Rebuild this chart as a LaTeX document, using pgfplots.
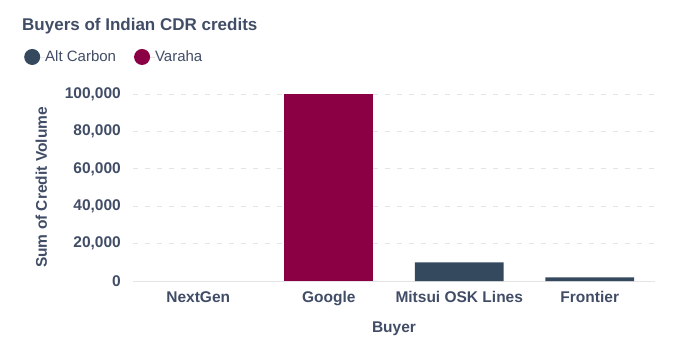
\documentclass[border=0pt]{standalone}
\usepackage{fontspec}
\setmainfont{Liberation Sans}
\usepackage{pgfplots}
\pgfplotsset{compat=1.18}
\definecolor{txt}{HTML}{414D66}
\definecolor{alt}{HTML}{34495E}
\definecolor{var}{HTML}{8B0045}
\definecolor{grd}{HTML}{E4E4E4}
\begin{document}
\begin{tikzpicture}
\path[use as bounding box] (-133pt,-73pt) rectangle (552pt,281pt);
\begin{axis}[
  at={(0,0)}, anchor=south west,
  scale only axis, width=522pt, height=187pt,
  xmin=-0.5, xmax=3.5, ymin=0, ymax=100000,
  ybar stacked, bar width=0.68,
  axis line style={draw=none}, major tick length=0pt,
  xtick={0,1,2,3},
  xticklabels={NextGen,Google,Mitsui OSK Lines,Frontier},
  ytick={20000,40000,60000,80000,100000},
  extra y ticks={0},
  extra y tick style={major grid style={solid, draw=grd, line width=1pt}},
  ymajorgrids,
  major grid style={draw=grd, dash pattern=on 5pt off 7pt, line width=0.8pt},
  scaled y ticks=false,
  /pgf/number format/fixed, /pgf/number format/1000 sep={,},
  /pgf/number format/assume math mode=true,
  ticklabel style={font=\fontsize{15.5}{18}\selectfont\bfseries, text=txt, inner sep=0pt},
  yticklabel style={anchor=east, xshift=-12pt},
  xticklabel style={anchor=base, yshift=-21pt},
  xlabel={Buyer}, ylabel={Sum of Credit Volume},
  label style={font=\fontsize{15.5}{18}\selectfont\bfseries, text=txt},
  xlabel style={at={(axis description cs:0.5,-0.2727)}, anchor=base},
  ylabel style={at={(axis description cs:-0.1648,0.5)}, anchor=base},
  legend columns=2,
  legend style={at={(axis description cs:-0.2088,1.198)}, anchor=west, draw=none, fill=none,
    inner sep=0pt, nodes={inner sep=0pt}, font=\fontsize{15}{18}\selectfont, text=txt,
    /tikz/every even column/.append style={column sep=18pt}},
  legend image code/.code={\fill[#1] (8pt,0pt) circle (8pt); \path (0pt,0pt) rectangle (21pt,0pt);},
]
\addplot[fill=alt, draw=none] coordinates {(0,0) (1,0) (2,10000) (3,2000)};
\addplot[fill=var, draw=none] coordinates {(0,0) (1,100000) (2,0) (3,0)};
\legend{Alt Carbon, Varaha}
\end{axis}
\node[anchor=base west, font=\fontsize{17}{20}\selectfont\bfseries, text=txt, inner sep=0pt] at (-111pt,251pt) {Buyers of Indian CDR credits};
\end{tikzpicture}
\end{document}
